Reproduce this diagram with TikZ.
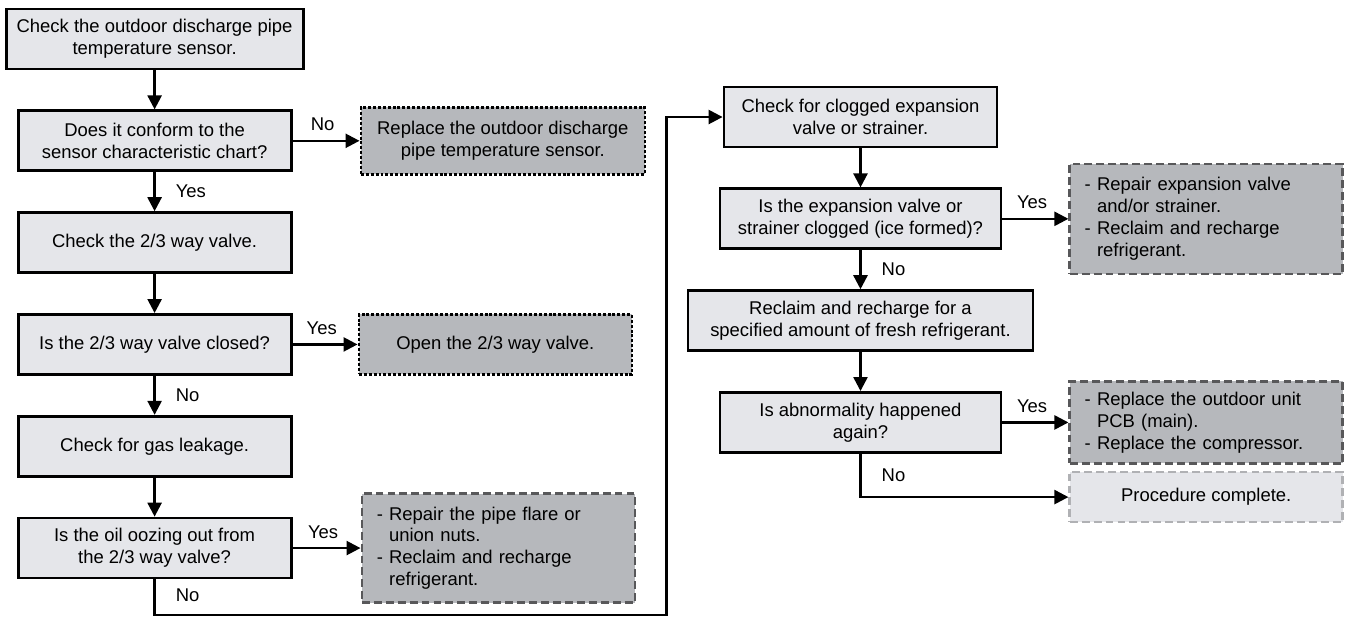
\documentclass[tikz,border=0pt]{standalone}
\usepackage{fontspec}
\setmainfont{Liberation Sans}
\usetikzlibrary{arrows.meta,positioning}
\definecolor{softgrey}{RGB}{229,230,234}
\definecolor{darkgrey}{RGB}{182,184,188}
\definecolor{edgegrey}{RGB}{88,88,90}
\definecolor{paleedge}{RGB}{176,177,180}

\begin{document}
\begin{tikzpicture}[
  font=\fontsize{10.5}{12.4}\selectfont,
  node distance=7.8mm and 13.4mm,
  proc/.style={draw, line width=1.6pt, align=center, minimum height=12mm, minimum width=54.6mm, fill=softgrey, inner sep=2pt},
  fix/.style={draw, line width=1.5pt, dash pattern=on 1.7pt off 1.1pt, align=center, minimum height=12mm, minimum width=54.6mm, fill=darkgrey, inner sep=2pt},
  repair/.style={draw=edgegrey, line width=1.5pt, dash pattern=on 4.5pt off 2.3pt, align=left, text width=48.6mm, inner xsep=3mm, fill=darkgrey},
  endbox/.style={draw=paleedge, line width=1.5pt, dash pattern=on 4.5pt off 2.3pt, align=center, minimum height=10mm, minimum width=54.6mm, fill=softgrey},
  arrow/.style={-{Triangle[length=2.8mm, width=2.8mm]}, line width=1.4pt},
  lbl/.style={inner sep=1.2mm}
]
\useasboundingbox (0,0) rectangle (269.2mm,-123.4mm);

% left column
\node[proc, minimum width=59.4mm] (sensor) at (30.92mm,-7.8mm) {Check the outdoor discharge pipe\\temperature sensor.};
\node[proc, below=of sensor] (conform) {Does it conform to the\\sensor characteristic chart?};
\node[proc, below=of conform] (valve) {Check the 2/3 way valve.};
\node[proc, below=of valve] (closed) {Is the 2/3 way valve closed?};
\node[proc, below=of closed] (leak) {Check for gas leakage.};
\node[proc, below=of leak] (oil) {Is the oil oozing out from\\the 2/3 way valve?};

\node[fix, right=of conform, minimum width=56.8mm, minimum height=13.4mm] (replace) {Replace the outdoor discharge\\pipe temperature sensor.};
\node[fix, right=13mm of closed] (open) {Open the 2/3 way valve.};
\node[repair, right=13.6mm of oil, minimum height=21.8mm] (flare) {- Repair the pipe flare or\\\phantom{- }union nuts.\\- Reclaim and recharge\\\phantom{- }refrigerant.};

% right column
\node[proc] (clog) at (172.1mm,-23.4mm) {Check for clogged expansion\\valve or strainer.};
\node[proc, below=of clog, minimum width=56.2mm] (ice) {Is the expansion valve or\\strainer clogged (ice formed)?};
\node[proc, below=of ice, minimum width=69mm] (recharge) {Reclaim and recharge for a\\specified amount of fresh refrigerant.};
\node[proc, below=of recharge, minimum width=56.2mm] (again) {Is abnormality happened\\again?};

\node[repair, right=13.2mm of ice, minimum height=22mm] (expfix) {- Repair expansion valve\\\phantom{- }and/or strainer.\\- Reclaim and recharge\\\phantom{- }refrigerant.};
\node[repair, right=13.2mm of again, minimum height=16.4mm] (pcb) {- Replace the outdoor unit\\\phantom{- }PCB (main).\\- Replace the compressor.};
\node[endbox, below=1.2mm of pcb] (complete) {Procedure complete.};

\coordinate (turn) at (133.3mm,-123mm);

\draw[arrow] (sensor) -- (conform);
\draw[arrow] (conform) -- node[lbl, right=2.8mm] {Yes} (valve);
\draw[arrow] (conform) -- node[lbl, above=0.5mm, pos=0.45] {No} (replace);
\draw[arrow] (valve) -- (closed);
\draw[arrow] (closed) -- node[lbl, above=0.5mm, pos=0.45] {Yes} (open);
\draw[arrow] (closed) -- node[lbl, right=2.8mm] {No} (leak);
\draw[arrow] (leak) -- (oil);
\draw[arrow] (oil) -- node[lbl, above=0.5mm, pos=0.45] {Yes} (flare);
\draw[arrow] (oil.south) |- node[lbl, right=2.8mm, pos=0.22] {No} (turn) |- (clog.west);

\draw[arrow] (clog) -- (ice);
\draw[arrow] (ice) -- node[lbl, above=0.5mm, pos=0.45] {Yes} (expfix);
\draw[arrow] (ice) -- node[lbl, right=2.8mm] {No} (recharge);
\draw[arrow] (recharge) -- (again);
\draw[arrow] (again) -- node[lbl, above=0.5mm, pos=0.45] {Yes} (pcb);
\draw[arrow] (again.south) |- node[lbl, right=2.8mm, pos=0.25] {No} (complete.west);
\end{tikzpicture}
\end{document}
